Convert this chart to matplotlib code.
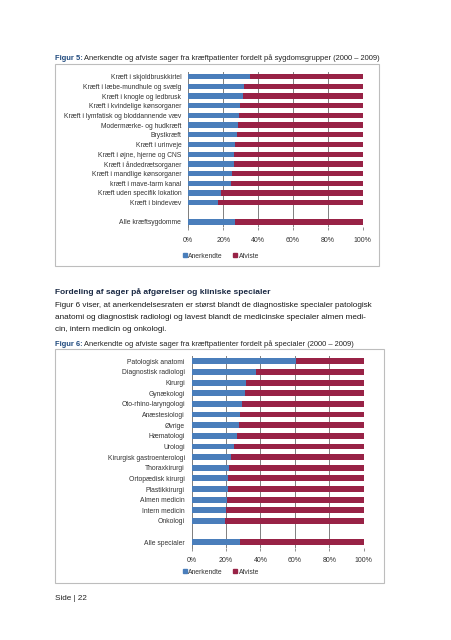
import matplotlib
matplotlib.use("Agg")
import matplotlib.pyplot as plt
from matplotlib.patches import Rectangle
from matplotlib.lines import Line2D
import numpy as np

plt.rcParams['font.family'] = ['Liberation Sans', 'DejaVu Sans']

# data, figure 5 (sygdomsgrupper), share anerkendte in %
groups = ["Kræft i skjoldbruskkirtel", "Kræft i læbe-mundhule og svælg",
          "Kræft i knogle og ledbrusk", "Kræft i kvindelige kønsorganer",
          "Kræft i lymfatisk og bloddannende væv", "Modermærke- og hudkræft",
          "Brystkræft", "Kræft i urinveje", "Kræft i øjne, hjerne og CNS",
          "Kræft i åndedrætsorganer", "Kræft i mandlige kønsorganer",
          "kræft i mave-tarm kanal", "Kræft uden specifik lokation",
          "Kræft i bindevæv", "", "Alle kræftsygdomme"]
groups_pct = [35.4, 31.9, 31.2, 29.6, 29.1, 28.5, 27.9, 26.8, 26.2, 26.2,
              25.0, 24.3, 18.7, 17.0, np.nan, 26.8]

# data, figure 6 (specialer)
specs = ["Patologisk anatomi", "Diagnostisk radiologi", "Kirurgi", "Gynækologi",
         "Oto-rhino-laryngologi", "Anæstesiologi", "Øvrige", "Hæmatologi",
         "Urologi", "Kirurgisk gastroenterologi", "Thoraxkirurgi",
         "Ortopædisk kirurgi", "Plastikkirurgi", "Almen medicin",
         "Intern medicin", "Onkologi", "", "Alle specialer"]
specs_pct = [60.5, 37.4, 31.4, 31.0, 29.3, 28.1, 27.5, 26.2, 24.6, 22.9,
             21.7, 20.9, 20.9, 20.8, 20.0, 19.4, np.nan, 28.1]

ticks = [0, 20, 40, 60, 80, 100]
tick_labels = ["0%", "20%", "40%", "60%", "80%", "100%"]

c_acc = "#4A7EBB"
c_rej = "#982246"
W, H = 452, 640

fig = plt.figure(figsize=(W / 100, H / 100), dpi=100)
fig.patch.set_facecolor("white")


def fx(px):
    return px / W


def fy(py):
    return 1 - py / H


def box(x0, y0, x1, y1):
    fig.patches.append(Rectangle((fx(x0), fy(y1)), fx(x1 - x0), (y1 - y0) / H,
                                 transform=fig.transFigure, fill=False,
                                 edgecolor="#BDBDBD", lw=0.8))


def caption(x, y, num, txt):
    r = fig.canvas.get_renderer()
    t = fig.text(fx(x), fy(y), "Figur %d:" % num, fontsize=5.45, weight="bold",
                 color="#1F497D", va="center")
    bb = t.get_window_extent(r)
    fig.text(bb.x1 / W + fx(1.5), fy(y), txt, fontsize=5.45, color="#222222",
             va="center")


def chart(left, right, top, bottom, labels, pct, leg_y):
    ax = fig.add_axes([fx(left), fy(bottom), fx(right - left), (bottom - top) / H])
    y = np.arange(len(labels))
    acc = np.array(pct)
    rej = 100 - acc
    ax.barh(y, acc, height=0.55, color=c_acc, zorder=3)
    ax.barh(y, rej, left=acc, height=0.55, color=c_rej, zorder=3)
    ax.set_xlim(0, 100)
    ax.set_ylim(len(labels) - 0.5, -0.5)
    ax.set_yticks(y)
    ax.set_yticklabels(labels, fontsize=4.9, color="#333333")
    ax.set_xticks(ticks)
    ax.set_xticklabels(tick_labels, fontsize=5.0, color="#333333")
    ax.tick_params(axis="y", length=0, pad=5)
    ax.tick_params(axis="x", length=2, width=0.6, color="#808080", pad=5)
    for s in ["top", "right", "bottom"]:
        ax.spines[s].set_visible(False)
    ax.spines["left"].set_color("#808080")
    ax.spines["left"].set_linewidth(0.7)
    ax.grid(axis="x", color="#808080", lw=0.7, zorder=0)
    ax.set_facecolor("none")
    handles = [Line2D([], [], marker="s", ls="", color=c_acc, markersize=2.7),
               Line2D([], [], marker="s", ls="", color=c_rej, markersize=2.7)]
    fig.legend(handles, ["Anerkendte", "Afviste"], loc="center",
               bbox_to_anchor=(fx(221), fy(leg_y)), ncol=2, frameon=False,
               fontsize=4.9, handlelength=0.6, handletextpad=0.2,
               columnspacing=1.5, labelcolor="#333333")
    return ax


# figure 5
caption(55, 58.5, 5, "Anerkendte og afviste sager fra kræftpatienter fordelt på sygdomsgrupper (2000 – 2009)")
box(55, 64, 379, 266)
chart(188.3, 362.7, 71.9, 226.8, groups, groups_pct, 256)

# text between
fig.text(fx(55), fy(292), "Fordeling af sager på afgørelser og kliniske specialer",
         fontsize=6.0, weight="bold", color="#1B2A44", va="center")
para = ["Figur 6 viser, at anerkendelsesraten er størst blandt de diagnostiske specialer patologisk",
        "anatomi og diagnostisk radiologi og lavest blandt de medicinske specialer almen medi-",
        "cin, intern medicin og onkologi."]
for i, line in enumerate(para):
    fig.text(fx(55), fy(305.5 + i * 12.2), line, fontsize=5.9, color="#1A1A1A",
             va="center")

# figure 6
caption(55, 344, 6, "Anerkendte og afviste sager fra kræftpatienter fordelt på specialer (2000 – 2009)")
box(55, 349, 384, 583)
chart(191.7, 363.7, 356, 547.6, specs, specs_pct, 572)

fig.text(fx(55), fy(598), "Side | 22", fontsize=5.9, color="#222222", va="center")

fig.savefig("out.png", dpi=100, facecolor="white")
